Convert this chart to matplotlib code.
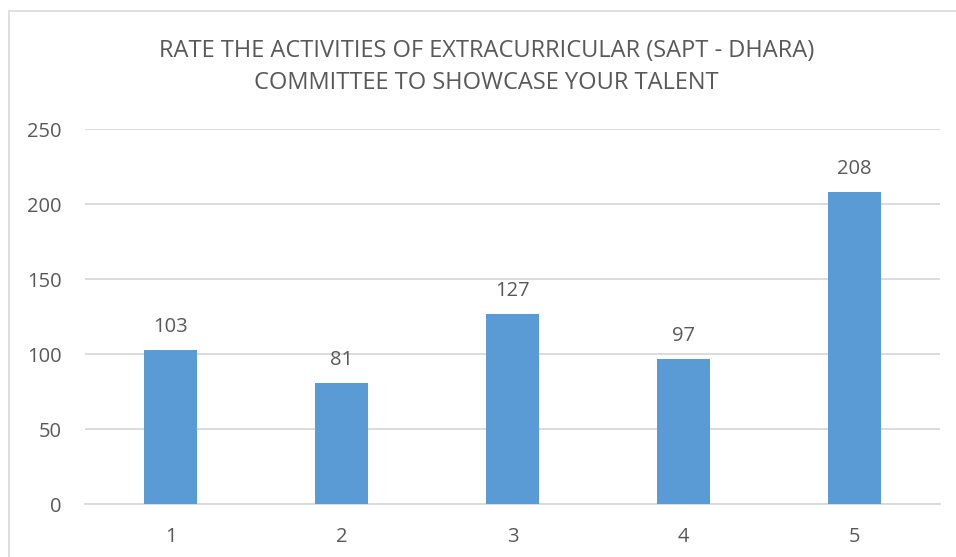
import matplotlib.pyplot as plt
from matplotlib.patches import Rectangle

plt.rcParams['font.family'] = ['Open Sans', 'DejaVu Sans']

#chart data
ratings = ["1", "2", "3", "4", "5"]
counts = [103, 81, 127, 97, 208]
yticks = [0, 50, 100, 150, 200, 250]

title = "RATE THE ACTIVITIES OF EXTRACURRICULAR (SAPT - DHARA)\nCOMMITTEE TO SHOWCASE YOUR TALENT"

text_col = "#595959"
grid_col = "#d9d9d9"

fig = plt.figure(figsize=(9.56, 5.57), dpi=100)
ax = fig.add_axes([0.0889, 0.0943, 0.8944, 0.6741])

x = range(len(ratings))
bars = ax.bar(x, counts, width=0.31, color="#5b9bd5", zorder=3)

for xi, v in zip(x, counts):
    ax.annotate(str(v), (xi, v), xytext=(0, 13), textcoords="offset points",
                ha="center", va="baseline", fontsize=14.5, color=text_col)

ax.set_xlim(-0.5, len(ratings) - 0.5)
ax.set_ylim(0, 250)
ax.set_xticks(list(x))
ax.set_xticklabels(ratings)
ax.set_yticks(yticks)
ax.tick_params(axis="both", length=0, labelsize=14.5, colors=text_col)
ax.tick_params(axis="x", pad=16)
ax.tick_params(axis="y", pad=17)
ax.yaxis.grid(True, color=grid_col, linewidth=1.3, zorder=0)
for s in ["top", "right", "left"]:
    ax.spines[s].set_visible(False)
ax.spines["bottom"].set_color(grid_col)
ax.spines["bottom"].set_linewidth(1.3)

fig.text(0.509, 0.880, title, ha="center", va="center", fontsize=17,
         color=text_col, linespacing=1.45)

# chart border
fig.patches.append(Rectangle((9 / 956, -0.01), 1.0, 1 - 11 / 557 + 0.01,
                             transform=fig.transFigure, fill=False,
                             edgecolor=grid_col, linewidth=1.2))

fig.savefig("out.png", dpi=100)
